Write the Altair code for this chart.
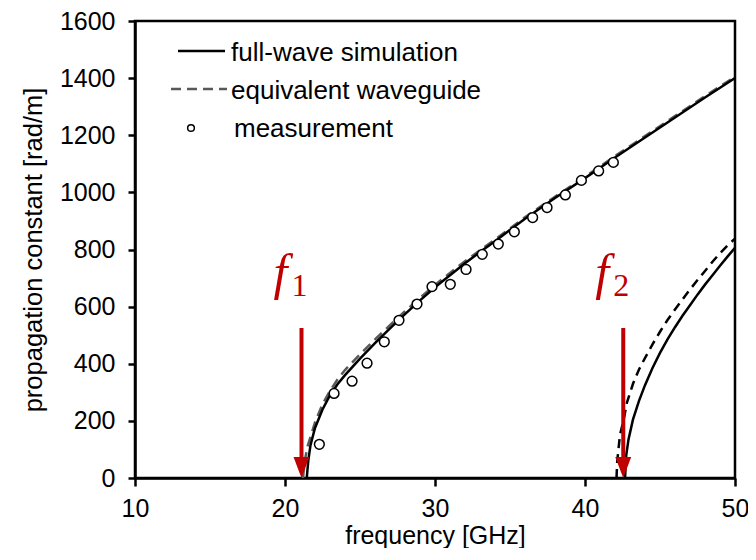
import altair as alt
import pandas as pd

# ---- data ----
# full-wave simulation, first mode
sim1_f = [21.45, 21.55, 21.7, 22.0, 22.5, 23.0, 23.5, 24.0, 25.0, 26.0, 27.0, 28.0, 29.0,
          30.0, 31.0, 32.0, 33.0, 34.0, 36.0, 38.0, 40.0, 42.0, 44.0, 46.0, 48.0, 50.0]
sim1_b = [0, 60, 115, 175, 240, 290, 328, 360, 418, 472, 524, 574, 622,
          668, 710, 752, 791, 829, 908, 980, 1050, 1122, 1192, 1262, 1332, 1400]
# equivalent waveguide, first mode
eq1_f = [21.2, 21.3, 21.5, 22.0, 22.5, 23.0, 23.5, 24.0, 25.0, 26.0, 27.0, 28.0, 29.0,
         30.0, 31.0, 32.0, 33.0, 34.0, 36.0, 38.0, 40.0, 42.0, 44.0, 46.0, 48.0, 50.0]
eq1_b = [0, 55, 110, 195, 258, 305, 345, 378, 433, 485, 535, 584, 631,
         676, 718, 759, 797, 835, 913, 985, 1055, 1127, 1197, 1267, 1337, 1405]
# full-wave simulation, second mode
sim2_f = [42.67, 42.75, 42.9, 43.2, 43.6, 44.0, 44.5, 45.0, 45.5, 46.0, 46.5, 47.0,
          47.5, 48.0, 48.5, 49.0, 49.5, 50.0]
sim2_b = [0, 80, 135, 205, 270, 325, 385, 438, 485, 528, 568, 605,
          642, 677, 710, 743, 775, 806]
# equivalent waveguide, second mode
eq2_f = [42.1, 42.15, 42.33, 42.6, 42.8, 43.2, 43.6, 44.0, 44.5, 45.0, 45.5, 46.0,
         46.5, 47.0, 47.5, 48.0, 48.5, 49.0, 49.5, 50.0]
eq2_b = [0, 60, 150, 210, 265, 330, 380, 420, 468, 512, 553, 590,
         625, 660, 693, 725, 757, 787, 814, 838]
# measurement
meas_f = [22.29, 23.27, 24.47, 25.47, 26.62, 27.6, 28.8, 29.8, 31.02, 32.07, 33.15,
          34.22, 35.29, 36.51, 37.47, 38.69, 39.76, 40.91, 41.89]
meas_b = [118, 296, 339, 402, 477, 552, 609, 670, 678, 730, 783,
          819, 862, 912, 947, 991, 1042, 1075, 1105]

# cut-off annotations
arrow_f = [21.1, 42.55]
arrow_top = [525, 525]
arrow_bottom = [60, 60]
arrow_tip = [0, 0]
label_main = ["f", "f"]
label_sub = ["1", "2"]
label_main_beta = [662, 662]
label_sub_beta = [637, 637]

x_ticks = [10, 20, 30, 40, 50]
y_ticks = [0, 200, 400, 600, 800, 1000, 1200, 1400, 1600]

legend_names = ["full-wave simulation", "equivalent waveguide", "measurement"]

RED = "#C00000"
FONT = "Liberation Sans"


def df(f, b):
    return pd.DataFrame({"f": f, "beta": b})


x_enc = alt.X("f:Q",
              scale=alt.Scale(domain=[10, 50], nice=False, zero=False),
              axis=alt.Axis(values=x_ticks, title="frequency [GHz]", format="d",
                            tickSize=8, labelPadding=10, titlePadding=2,
                            labelFlush=False, labelOverlap=False, titleFontSize=25))
y_enc = alt.Y("beta:Q",
              scale=alt.Scale(domain=[0, 1600], nice=False),
              axis=alt.Axis(values=y_ticks, title="propagation constant [rad/m]", format="d",
                            tickSize=7, labelPadding=13, titlePadding=13,
                            labelFlush=False, labelOverlap=False, titleFontSize=25.5))

sim1 = alt.Chart(df(sim1_f, sim1_b)).mark_line(color="black", strokeWidth=2.5, clip=True).encode(
    x=x_enc, y=y_enc, order="f:Q")
eq1 = alt.Chart(df(eq1_f, eq1_b)).mark_line(color="#595959", strokeWidth=2.5,
                                            strokeDash=[10, 6], clip=True).encode(
    x=x_enc, y=y_enc, order="f:Q")
sim2 = alt.Chart(df(sim2_f, sim2_b)).mark_line(color="black", strokeWidth=2.5, clip=True).encode(
    x=x_enc, y=y_enc, order="f:Q")
eq2 = alt.Chart(df(eq2_f, eq2_b)).mark_line(color="black", strokeWidth=2.5,
                                            strokeDash=[9, 6], clip=True).encode(
    x=x_enc, y=y_enc, order="f:Q")
meas = alt.Chart(df(meas_f, meas_b)).mark_point(shape="circle", size=95, filled=False,
                                                color="black", fill="white", fillOpacity=1,
                                                strokeWidth=1.5, opacity=1).encode(
    x=x_enc, y=y_enc)

arr_df = pd.DataFrame({"f": arrow_f, "top": arrow_top, "bottom": arrow_bottom,
                       "tip": arrow_tip, "main": label_main, "sub": label_sub,
                       "mb": label_main_beta, "sb": label_sub_beta})
arrow_line = alt.Chart(arr_df).mark_rule(color=RED, strokeWidth=4).encode(
    x=alt.X("f:Q"), y=alt.Y("top:Q"), y2="bottom:Q")
arrow_head = alt.Chart(arr_df).mark_point(shape="M-0.76,-2L0.76,-2L0,0Z", size=441,
                                          filled=True, color=RED, opacity=1).encode(
    x=alt.X("f:Q"), y=alt.Y("tip:Q"))
lab_main = alt.Chart(arr_df).mark_text(font="Liberation Serif", fontStyle="italic", fontSize=50,
                                       color=RED, align="center", baseline="alphabetic",
                                       dx=-21).encode(
    x=alt.X("f:Q"), y=alt.Y("mb:Q"), text="main:N")
lab_sub = alt.Chart(arr_df).mark_text(font="Liberation Serif", fontSize=32, color=RED,
                                      align="center", baseline="alphabetic", dx=-2).encode(
    x=alt.X("f:Q"), y=alt.Y("sb:Q"), text="sub:N")

# ---- manual legend (positions in plot pixels) ----
leg_df = pd.DataFrame({"name": legend_names})
leg_solid = alt.Chart(leg_df.iloc[[0]]).mark_rule(color="black", strokeWidth=2.5).encode(
    x=alt.value(43), x2=alt.value(90), y=alt.value(30))
leg_dash = alt.Chart(leg_df.iloc[[1]]).mark_rule(color="#595959", strokeWidth=2.5,
                                                 strokeDash=[10, 6]).encode(
    x=alt.value(36), x2=alt.value(92), y=alt.value(68))
leg_circ = alt.Chart(leg_df.iloc[[2]]).mark_point(shape="circle", size=45, filled=False,
                                                  color="black", strokeWidth=1.5,
                                                  opacity=1).encode(
    x=alt.value(56), y=alt.value(107))
leg_text = alt.Chart(leg_df).transform_window(idx="row_number()").transform_calculate(
    ty="datum.idx == 1 ? 40 : (datum.idx == 2 ? 78 : 116)",
    tx="datum.idx == 3 ? 99 : 96").mark_text(
    font=FONT, fontSize=26, color="black", align="left", baseline="alphabetic").encode(
    x=alt.X("tx:Q", scale=None), y=alt.Y("ty:Q", scale=None), text="name:N")

chart = alt.layer(
    eq1, sim1, eq2, sim2, meas, arrow_line, arrow_head, lab_main, lab_sub,
    leg_solid, leg_dash, leg_circ, leg_text
).properties(
    width=600, height=457,
    padding={"left": 127, "top": 13, "right": 13, "bottom": 70},
    autosize=alt.AutoSizeParams(type="none"),
).configure_view(
    stroke="black", strokeWidth=2.5
).configure_axis(
    grid=False,
    labelFont=FONT, labelFontSize=25, labelColor="black",
    titleFont=FONT, titleFontWeight="normal", titleColor="black",
    domainColor="black", domainWidth=2.5, tickColor="black", tickWidth=2.5,
)

chart.save("out.html", embed_options={"renderer": "svg", "actions": False})
